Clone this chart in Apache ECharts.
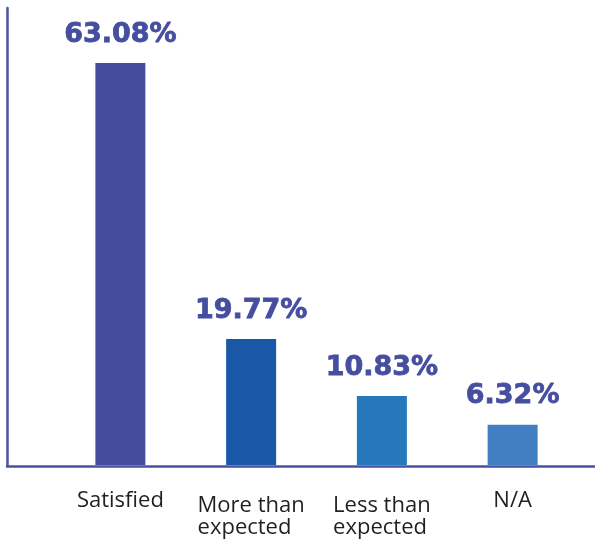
<!DOCTYPE html>
<html><head><meta charset="utf-8">
<script src="https://cdn.jsdelivr.net/npm/echarts@6/dist/echarts.min.js"></script>
<style>html,body{margin:0;padding:0;background:#fff}#c{width:595px;height:540px}</style>
</head><body><div id="c"></div>
<script>
const categories = ['Satisfied', 'More than\nexpected', 'Less than\nexpected', 'N/A'];
const values = [63.08, 19.77, 10.83, 6.32];
const barColors = ['#454c9e', '#1858a6', '#2777bd', '#427fc2'];

const chart = echarts.init(document.getElementById('c'), null, {renderer: 'canvas'});
const axisColor = '#4a50a2';
const lblFont = {color: '#231f20', fontFamily: 'Open Sans', fontSize: 22};
chart.setOption({
  animation: false,
  grid: [
    {left: 7, right: 0, top: 8, bottom: 74, outerBoundsMode: 'none', containLabel: false},
    {left: 55, right: 17, top: 19, bottom: 75, outerBoundsMode: 'none', containLabel: false}
  ],
  xAxis: [
    {gridIndex: 0, type: 'value', min: 0, max: 1, axisLine: {show: true, lineStyle: {color: axisColor, width: 2.5}},
     axisTick: {show: false}, axisLabel: {show: false}, splitLine: {show: false}},
    {gridIndex: 1, type: 'category', data: categories, axisLine: {show: false}, axisTick: {show: false},
     axisLabel: Object.assign({interval: 0, margin: 30, lineHeight: 22,
       formatter: v => {
         const lines = v.split('\n');
         const key = lines.length > 1 ? 'l' : 's';
         return lines.map(l => '{' + key + '|' + l + '}').join('\n');
       },
       rich: {
         l: Object.assign({align: 'left', lineHeight: 22}, lblFont),
         s: Object.assign({align: 'left', lineHeight: 11}, lblFont)
       }}, lblFont)}
  ],
  yAxis: [
    {gridIndex: 0, type: 'value', min: 0, max: 1, axisLine: {show: true, lineStyle: {color: axisColor, width: 2.5}},
     axisTick: {show: false}, axisLabel: {show: false}, splitLine: {show: false}},
    {gridIndex: 1, type: 'value', min: 0, max: 70, axisLine: {show: false}, axisTick: {show: false},
     axisLabel: {show: false}, splitLine: {show: false}}
  ],
  series: [{
    type: 'bar', xAxisIndex: 1, yAxisIndex: 1, barWidth: 50,
    data: values.map((v, i) => ({value: v, itemStyle: {color: barColors[i]}})),
    label: {show: true, position: 'top', distance: 15, formatter: p => p.value.toFixed(2) + '%',
      fontFamily: 'DejaVu Sans', fontWeight: 'bold', fontSize: 27, color: '#464ea0',
      textBorderColor: '#464ea0', textBorderWidth: 0.8}
  }]
});
</script></body></html>
